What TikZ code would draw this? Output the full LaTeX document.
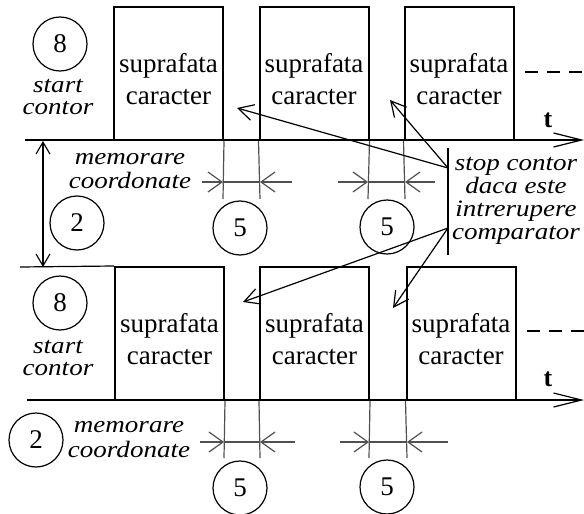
\documentclass[tikz,border=0pt]{standalone}
\usepackage{fontspec}
\setmainfont{Liberation Serif}
\newfontfamily\notefont{Liberation Serif}[FakeStretch=1.15]
\usetikzlibrary{arrows.meta}

\begin{document}
\begin{tikzpicture}[x=1pt,y=-1pt,
  charbox/.style={draw, line width=2pt, minimum width=109pt, minimum height=133pt, inner sep=0pt},
  boxtext/.style={align=center, inner sep=0pt, font=\fontsize{27}{32}\selectfont},
  note/.style={align=center, inner sep=0pt, font=\fontsize{23.5}{23}\notefont\itshape},
  num/.style={draw, circle, line width=1.2pt, minimum size=54pt, inner sep=0pt, font=\fontsize{27}{27}\selectfont},
  tlabel/.style={inner sep=0pt, font=\fontsize{26}{26}\selectfont\bfseries},
  axisline/.style={line width=2.5pt, -{Straight Barb[length=28pt,width=14pt,line width=1.2pt]}},
  dashline/.style={line width=2pt, dash pattern=on 13pt off 9pt},
  dimline/.style={draw=dimgray, line width=1.2pt},
  dimarrow/.style={dimline, -{Straight Barb[length=14pt,width=20pt]}},
  pointer/.style={line width=1.2pt, -{Straight Barb[length=15pt,width=16pt]}},
  gapline/.style={line width=1.2pt},
]
\definecolor{dimgray}{RGB}{80,80,80}
\useasboundingbox (0,0) rectangle (584,514);

% ---------- upper time axis ----------
\coordinate (ax1s) at (25,140);
\coordinate (ax1e) at (584,140);
\draw[axisline] (ax1s) -- (ax1e);
\node[tlabel] (t1) at (548,120) {t};
\coordinate (d1s) at (525,72);
\coordinate (d1e) at (584,72);
\draw[dashline] (d1s) -- (d1e);

\node[charbox] (b1) at (168.5,73.5) {};
\node[charbox] (b2) at (314,73.5) {};
\node[charbox] (b3) at (459,73.5) {};
\node[boxtext] (b1t) at (168.5,79) {suprafata\\caracter};
\node[boxtext] (b2t) at (314,79) {suprafata\\caracter};
\node[boxtext] (b3t) at (459,79) {suprafata\\caracter};

\node[num] (c8a) at (60,44) {8};
\node[note, font=\fontsize{23.5}{22}\notefont\itshape] (sca) at (58,97) {start\\contor};
\node[note, font=\fontsize{23.5}{24}\notefont\itshape] (mca) at (130,171) {memorare\\coordonate};

% gap dimensions between characters (upper)
\coordinate (e1) at (223,199);
\coordinate (e2) at (260,199);
\coordinate (e3) at (368,199);
\coordinate (e4) at (405,199);
\draw[dimline] (b1.south east) -- (e1);
\draw[dimline] (b2.south west) -- (e2);
\draw[dimline] (b2.south east) -- (e3);
\draw[dimline] (b3.south west) -- (e4);
\coordinate (g1a) at (202,182);
\coordinate (g1b) at (223,182);
\coordinate (g1c) at (260,182);
\coordinate (g1d) at (292,182);
\draw[dimarrow] (g1a) -- (g1b);
\draw[dimline] (g1b) -- (g1c);
\draw[dimarrow] (g1d) -- (g1c);
\coordinate (g2a) at (338,182);
\coordinate (g2b) at (368,182);
\coordinate (g2c) at (405,182);
\coordinate (g2d) at (435,182);
\draw[dimarrow] (g2a) -- (g2b);
\draw[dimline] (g2b) -- (g2c);
\draw[dimarrow] (g2d) -- (g2c);
\node[num] (c5a) at (240,228) {5};
\node[num] (c5b) at (387,227) {5};

% ---------- spacing between the two rows ----------
\coordinate (v1) at (43,141);
\coordinate (v2) at (43,267);
\draw[line width=1.1pt, {Straight Barb[length=12pt,width=14pt]}-{Straight Barb[length=12pt,width=14pt]}] (v1) -- (v2);
\coordinate (h2s) at (20,267);
\node[num] (c2a) at (77,223) {2};

% ---------- stop condition ----------
\coordinate (s1) at (448,148);
\coordinate (s2) at (448,255);
\draw[gapline] (s1) -- (s2);
\node[note] (stop) at (516,201) {stop contor\\daca este\\intrerupere\\comparator};
\coordinate (p1) at (448,168);
\coordinate (p2) at (448,228);
\coordinate (q1) at (237,108);
\coordinate (q2) at (390,100);
\coordinate (q3) at (243,302);
\coordinate (q4) at (393,308);
\draw[pointer] (p1) -- (q1);
\draw[pointer] (p1) -- (q2);
\draw[pointer] (p2) -- (q3);
\draw[pointer] (p2) -- (q4);

% ---------- lower time axis ----------
\coordinate (ax2s) at (27,400);
\coordinate (ax2e) at (584,400);
\draw[axisline] (ax2s) -- (ax2e);
\node[tlabel] (t2) at (548,379) {t};
\coordinate (d2s) at (527,331);
\coordinate (d2e) at (584,331);
\draw[dashline] (d2s) -- (d2e);

\node[charbox] (b4) at (169.5,333.5) {};
\node[charbox] (b5) at (314.5,333.5) {};
\node[charbox] (b6) at (461,333.5) {};
\node[boxtext] (b4t) at (169.5,339) {suprafata\\caracter};
\node[boxtext] (b5t) at (314.5,339) {suprafata\\caracter};
\node[boxtext] (b6t) at (461,339) {suprafata\\caracter};
\draw[gapline] (h2s) -- (b4.north west);

\node[num] (c8b) at (60,303) {8};
\node[note, font=\fontsize{23.5}{22}\notefont\itshape] (scb) at (58,358) {start\\contor};
\node[num] (c2b) at (36,440) {2};
\node[note, font=\fontsize{23.5}{25}\notefont\itshape] (mcb) at (129,440) {memorare\\coordonate};

% gap dimensions between characters (lower)
\coordinate (e5) at (224,458);
\coordinate (e6) at (260,458);
\coordinate (e7) at (369,458);
\coordinate (e8) at (407,458);
\draw[dimline] (b4.south east) -- (e5);
\draw[dimline] (b5.south west) -- (e6);
\draw[dimline] (b5.south east) -- (e7);
\draw[dimline] (b6.south west) -- (e8);
\coordinate (g3a) at (200,442);
\coordinate (g3b) at (224,442);
\coordinate (g3c) at (260,442);
\coordinate (g3d) at (295,442);
\draw[dimarrow] (g3a) -- (g3b);
\draw[dimline] (g3b) -- (g3c);
\draw[dimarrow] (g3d) -- (g3c);
\coordinate (g4a) at (340,442);
\coordinate (g4b) at (369,442);
\coordinate (g4c) at (407,442);
\coordinate (g4d) at (448,442);
\draw[dimarrow] (g4a) -- (g4b);
\draw[dimline] (g4b) -- (g4c);
\draw[dimarrow] (g4d) -- (g4c);
\node[num] (c5c) at (240,488) {5};
\node[num] (c5d) at (387,487) {5};
\end{tikzpicture}
\end{document}
